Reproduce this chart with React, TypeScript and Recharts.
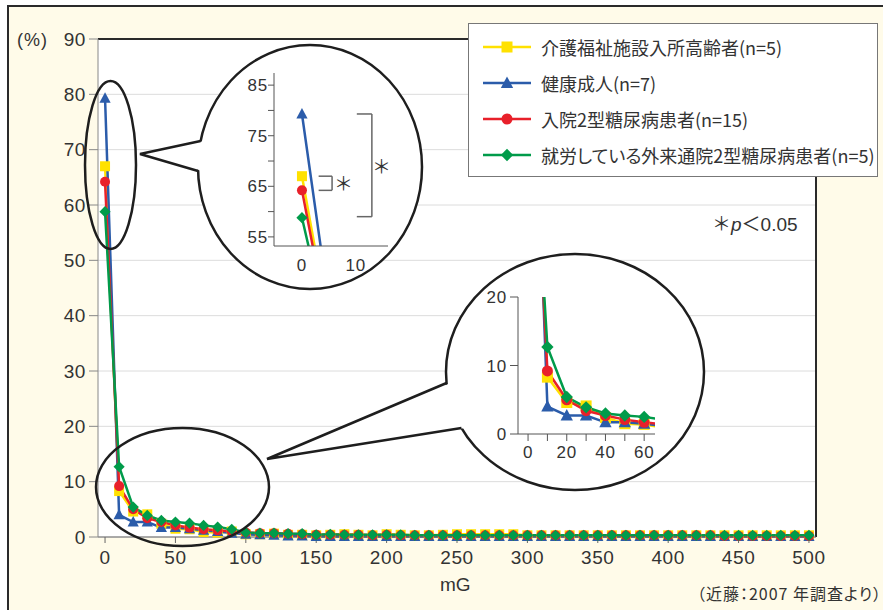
import React from 'react';
import { LineChart, Line, XAxis, YAxis, CartesianGrid, ReferenceLine } from 'recharts';

// mG steps (x)
const xValues = [
  0, 10, 20, 30, 40, 50, 60, 70, 80, 90, 100, 110, 120, 130, 140, 150, 160, 170, 180, 190, 200,
  210, 220, 230, 240, 250, 260, 270, 280, 290, 300, 310, 320, 330, 340, 350, 360, 370, 380, 390,
  400, 410, 420, 430, 440, 450, 460, 470, 480, 490, 500,
];

// % per group
const careHomeElderly = [
  67.0, 8.3, 4.6, 4.1, 2.4, 1.5, 1.4, 0.9, 0.8, 1.0, 0.5, 0.5, 0.6, 0.4, 0.4, 0.3, 0.4, 0.5, 0.4, 0.3, 0.5,
  0.4, 0.3, 0.3, 0.4, 0.5, 0.5, 0.5, 0.5, 0.5, 0.3, 0.3, 0.3, 0.3, 0.3, 0.3, 0.3, 0.3, 0.3, 0.3,
  0.3, 0.3, 0.3, 0.3, 0.3, 0.3, 0.3, 0.3, 0.3, 0.3, 0.3,
];
const healthyAdults = [
  79.3, 4.0, 2.7, 2.7, 1.7, 1.7, 1.5, 1.2, 1.0, 0.7, 0.5, 0.4, 0.3, 0.2, 0.2, 0.1, 0.1, 0.1, 0.1, 0.1, 0.1,
  0.1, 0.1, 0.1, 0.1, 0.1, 0.1, 0.1, 0.1, 0.1, 0.1, 0.1, 0.1, 0.1, 0.1, 0.1, 0.1, 0.1, 0.1, 0.1,
  0.1, 0.1, 0.1, 0.1, 0.1, 0.1, 0.1, 0.1, 0.1, 0.1, 0.1,
];
const inpatientT2D = [
  64.2, 9.2, 5.0, 3.4, 2.7, 2.1, 1.7, 1.4, 1.2, 1.0, 0.8, 0.7, 0.7, 0.6, 0.5, 0.4, 0.4, 0.4, 0.4, 0.3, 0.4,
  0.3, 0.3, 0.3, 0.3, 0.3, 0.3, 0.3, 0.3, 0.3, 0.3, 0.3, 0.3, 0.3, 0.3, 0.3, 0.3, 0.3, 0.3, 0.3,
  0.3, 0.3, 0.3, 0.3, 0.2, 0.2, 0.2, 0.2, 0.2, 0.2, 0.2,
];
const workingOutpatientT2D = [
  58.8, 12.7, 5.4, 3.9, 3.0, 2.7, 2.5, 2.1, 1.8, 1.4, 0.8, 0.7, 0.7, 0.6, 0.6, 0.4, 0.5, 0.4, 0.4, 0.4, 0.4,
  0.4, 0.3, 0.3, 0.3, 0.3, 0.3, 0.3, 0.3, 0.3, 0.3, 0.3, 0.3, 0.3, 0.3, 0.3, 0.3, 0.3, 0.3, 0.3,
  0.3, 0.3, 0.3, 0.3, 0.3, 0.3, 0.3, 0.3, 0.3, 0.3, 0.3,
];

const seriesNames = [
  '介護福祉施設入所高齢者(n=5)',
  '健康成人(n=7)',
  '入院2型糖尿病患者(n=15)',
  '就労している外来通院2型糖尿病患者(n=5)',
];

const mainXTicks = [0, 50, 100, 150, 200, 250, 300, 350, 400, 450, 500];
const mainYTicks = [0, 10, 20, 30, 40, 50, 60, 70, 80, 90];
const topZoomXTicks = [0, 10];
const topZoomYTicks = [55, 60, 65, 70, 75, 80, 85];
const lowZoomXTicks = [0, 10, 20, 30, 40, 50, 60];
const lowZoomYTicks = [0, 10, 20];

const series = [
  { key: 'care', name: seriesNames[0], color: '#FFE100', shape: 'square' },
  { key: 'healthy', name: seriesNames[1], color: '#2B5CAA', shape: 'triangle' },
  { key: 'inpatient', name: seriesNames[2], color: '#E8202A', shape: 'circle' },
  { key: 'working', name: seriesNames[3], color: '#009B4A', shape: 'diamond' },
];

const rows = xValues.map((x, i) => ({
  x,
  care: careHomeElderly[i],
  healthy: healthyAdults[i],
  inpatient: inpatientT2D[i],
  working: workingOutpatientT2D[i],
}));

const INK = '#333';
const OUTLINE = '#1e1e1e';

function Mark({ shape, cx, cy, color, size }: any) {
  if (cx == null || cy == null) return null;
  const h = size / 2;
  if (shape === 'square') return <rect x={cx - h} y={cy - h} width={size} height={size} fill={color} />;
  if (shape === 'triangle')
    return (
      <polygon
        points={`${cx},${cy - size * 0.6} ${cx - size * 0.56},${cy + size * 0.45} ${cx + size * 0.56},${cy + size * 0.45}`}
        fill={color}
      />
    );
  if (shape === 'circle') return <circle cx={cx} cy={cy} r={h} fill={color} />;
  return (
    <polygon
      points={`${cx},${cy - size * 0.56} ${cx + size * 0.56},${cy} ${cx},${cy + size * 0.56} ${cx - size * 0.56},${cy}`}
      fill={color}
    />
  );
}

const renderLines = (markSize: number, strokeWidth: number) =>
  series.map((s) => (
    <Line
      key={s.key}
      type="linear"
      dataKey={s.key}
      name={s.name}
      stroke={s.color}
      strokeWidth={strokeWidth}
      isAnimationActive={false}
      activeDot={false}
      dot={(p: any) => (
        <g key={`${s.key}-${p.index}`}>
          <Mark shape={s.shape} cx={p.cx} cy={p.cy} color={s.color} size={markSize} />
        </g>
      )}
    />
  ));

// left edge of an ellipse at a given y
const edgeX = (cx: number, cy: number, rx: number, ry: number, y: number) => {
  const t = (y - cy) / ry;
  return cx - rx * Math.sqrt(Math.max(0, 1 - t * t));
};

function Bubble({ cx, cy, rx, ry, tip, y1, y2 }: any) {
  const x1 = edgeX(cx, cy, rx, ry, y1);
  const x2 = edgeX(cx, cy, rx, ry, y2);
  return (
    <g>
      <ellipse cx={cx} cy={cy} rx={rx} ry={ry} fill="#fff" stroke={OUTLINE} strokeWidth={2.5} />
      <polygon points={`${tip[0]},${tip[1]} ${x1 + 4},${y1} ${x2 + 4},${y2}`} fill="#fff" />
      <polyline
        points={`${x1},${y1} ${tip[0]},${tip[1]} ${x2},${y2}`}
        fill="none"
        stroke={OUTLINE}
        strokeWidth={2.5}
      />
    </g>
  );
}

const tickStyle = { fill: INK, fontSize: 19, letterSpacing: 0.6 };
const smallTick = { fill: INK, fontSize: 17, letterSpacing: 0.8 };

export default function App() {
  return (
    <div
      style={{
        position: 'absolute',
        left: 0,
        top: 0,
        width: 883,
        height: 610,
        overflow: 'hidden',
        background: '#fff',
        fontFamily: '"Liberation Sans", Arial, sans-serif',
        color: INK,
      }}
    >
      <div
        style={{
          position: 'absolute',
          left: 7,
          top: 5,
          width: 900,
          height: 620,
          border: '2.5px solid #2a2a2a',
          background: '#FFFBE9',
        }}
      />

      {/* main chart */}
      <div style={{ position: 'absolute', left: 0, top: 0 }}>
        <LineChart width={883} height={610} data={rows} margin={{ top: 39, right: 67, bottom: 43, left: 0 }}>
          <CartesianGrid horizontal vertical={false} stroke="#dcdcdc" fill="#fff" />
          <XAxis
            dataKey="x"
            type="number"
            domain={[-5, 505]}
            ticks={mainXTicks}
            interval={0}
            height={30}
            tickSize={6}
            tickMargin={8}
            stroke="#666"
            tick={tickStyle}
          />
          <YAxis
            type="number"
            domain={[0, 90]}
            ticks={mainYTicks}
            interval={0}
            width={98}
            tickSize={9}
            tickMargin={3}
            stroke="#888"
            tick={tickStyle}
          />
          <ReferenceLine y={90} stroke="#2a2a2a" strokeWidth={2} />
          <ReferenceLine x={505} stroke="#2a2a2a" strokeWidth={2} />
          {renderLines(10, 2.5)}
        </LineChart>
      </div>

      {/* ellipses and magnifier bubbles */}
      <svg width={883} height={610} style={{ position: 'absolute', left: 0, top: 0 }}>
        <ellipse cx={110.5} cy={165} rx={25.5} ry={84} fill="none" stroke={OUTLINE} strokeWidth={2.5} />
        <ellipse cx={182.5} cy={487} rx={86.5} ry={59} fill="none" stroke={OUTLINE} strokeWidth={2.5} />
        <Bubble cx={310} cy={167} rx={112} ry={122} tip={[140, 154]} y1={141} y2={171} />
        <Bubble cx={575} cy={372} rx={129} ry={118} tip={[267, 459]} y1={383} y2={428} />
      </svg>

      {/* top zoom: 0 mG */}
      <div style={{ position: 'absolute', left: 234, top: 63 }}>
        <LineChart width={156} height={213} data={rows} margin={{ top: 10, right: 2, bottom: 0, left: 0 }}>
          <XAxis
            dataKey="x"
            type="number"
            domain={[-5.2, 16]}
            allowDataOverflow
            ticks={topZoomXTicks}
            interval={0}
            height={30}
            tickLine={false}
            tickSize={0}
            tickMargin={13}
            stroke="#555"
            tick={smallTick}
          />
          <YAxis
            type="number"
            domain={[53.2, 87.4]}
            allowDataOverflow
            ticks={topZoomYTicks}
            interval={0}
            tickFormatter={(v: number) => (v % 10 === 5 ? String(v) : '')}
            width={40}
            tickSize={6}
            tickMargin={0}
            stroke="#555"
            tick={smallTick}
          />
          <ReferenceLine segment={[{ x: 3.1, y: 67 }, { x: 5.6, y: 67 }]} stroke="#666" strokeWidth={1.5} />
          <ReferenceLine segment={[{ x: 5.6, y: 67 }, { x: 5.6, y: 64.2 }]} stroke="#666" strokeWidth={1.5} />
          <ReferenceLine segment={[{ x: 5.6, y: 64.2 }, { x: 3.1, y: 64.2 }]} stroke="#666" strokeWidth={1.5} />
          <ReferenceLine segment={[{ x: 10.2, y: 79.3 }, { x: 13, y: 79.3 }]} stroke="#666" strokeWidth={1.5} />
          <ReferenceLine segment={[{ x: 13, y: 79.3 }, { x: 13, y: 59 }]} stroke="#666" strokeWidth={1.5} />
          <ReferenceLine segment={[{ x: 13, y: 59 }, { x: 10.2, y: 59 }]} stroke="#666" strokeWidth={1.5} />
          {renderLines(10, 2.5)}
        </LineChart>
      </div>

      {/* bottom zoom: 0-60 mG */}
      <div style={{ position: 'absolute', left: 483, top: 287 }}>
        <LineChart width={175} height={177} data={rows} margin={{ top: 10, right: 3, bottom: 0, left: 0 }}>
          <XAxis
            dataKey="x"
            type="number"
            domain={[-5.2, 65.6]}
            allowDataOverflow
            ticks={lowZoomXTicks}
            interval={0}
            tickFormatter={(v: number) => (v % 20 === 0 ? String(v) : '')}
            height={30}
            tickSize={7}
            tickMargin={5}
            stroke="#555"
            tick={smallTick}
          />
          <YAxis
            type="number"
            domain={[0, 20]}
            allowDataOverflow
            ticks={lowZoomYTicks}
            interval={0}
            width={35}
            tickSize={8}
            tickMargin={3}
            stroke="#555"
            tick={smallTick}
          />
          {renderLines(11, 2.5)}
        </LineChart>
      </div>

      {/* significance stars */}
      <div
        style={{
          position: 'absolute',
          left: 334,
          top: 172,
          fontSize: 19,
          fontFamily: '"Noto Sans CJK JP", sans-serif',
          lineHeight: '22px',
        }}
      >
        ＊
      </div>
      <div
        style={{
          position: 'absolute',
          left: 372,
          top: 155,
          fontSize: 19,
          fontFamily: '"Noto Sans CJK JP", sans-serif',
          lineHeight: '22px',
        }}
      >
        ＊
      </div>

      {/* legend */}
      <div
        style={{
          position: 'absolute',
          left: 468,
          top: 23,
          width: 410,
          height: 154,
          boxSizing: 'border-box',
          border: '1.5px solid #777',
          background: '#fff',
        }}
      >
        {series.map((s, i) => (
          <div
            key={s.key}
            style={{
              position: 'absolute',
              left: 13,
              top: 23 + i * 36 - 13,
              height: 26,
              display: 'flex',
              alignItems: 'center',
              whiteSpace: 'nowrap',
            }}
          >
            <svg width={50} height={14} style={{ marginRight: 9 }}>
              <line x1={1} y1={7} x2={49} y2={7} stroke={s.color} strokeWidth={2.5} />
              <Mark shape={s.shape} cx={25} cy={7} color={s.color} size={11} />
            </svg>
            <span
              style={{
                fontFamily: '"Noto Sans CJK JP", sans-serif',
                fontSize: 18,
                fontFeatureSettings: '"palt"',
                color: INK,
              }}
            >
              {s.name}
            </span>
          </div>
        ))}
      </div>

      {/* texts */}
      <div style={{ position: 'absolute', left: 712, top: 209, fontSize: 19, whiteSpace: 'nowrap' }}>
        <span style={{ fontFamily: '"Noto Sans CJK JP", sans-serif' }}>＊</span>
        <i>p</i>
        <span style={{ fontFamily: '"Noto Sans CJK JP", sans-serif' }}>＜</span>0.05
      </div>
      <div style={{ position: 'absolute', left: 17, top: 30, fontSize: 18, letterSpacing: 1 }}>(%)</div>
      <div style={{ position: 'absolute', left: 440, top: 574, fontSize: 19 }}>mG</div>
      <div
        style={{
          position: 'absolute',
          right: 1,
          top: 581,
          fontSize: 16,
          letterSpacing: 1,
          whiteSpace: 'nowrap',
          fontFamily: '"Noto Sans CJK JP", sans-serif',
          fontFeatureSettings: '"palt"',
        }}
      >
        （近藤：2007 年調査より）
      </div>
    </div>
  );
}
